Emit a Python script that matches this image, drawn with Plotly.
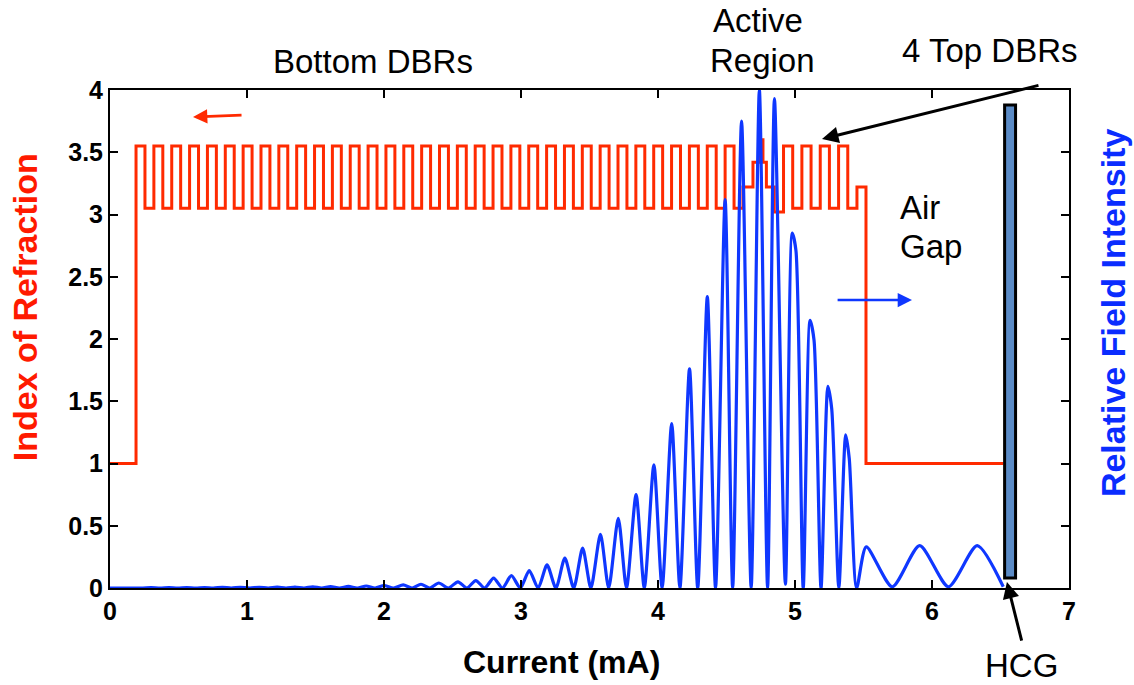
import numpy as np
import plotly.graph_objects as go

# ---- refractive-index profile of the layer stack -------------------------
substrate_n, substrate_t = [1.00], [0.19]
bottom_dbr_n, bottom_dbr_t, bottom_pairs = [3.55, 3.05], [0.0652, 0.0651], 34
active_n = [3.22, 3.42, 3.60, 3.42, 3.22, 3.02]
active_t = [0.073, 0.054, 0.019, 0.025, 0.057, 0.068]
top_dbr_n, top_dbr_t, top_pairs = [3.55, 3.05], [0.067, 0.067], 4
cap_n, cap_t = [3.22], [0.066]
air_n, air_t = [1.00], [1.003]

# ---- relative field intensity (peaks / troughs along the structure) -------
field_x = [0.00, 0.19, 0.24, 0.30, 0.365, 0.43, 0.495, 0.56, 0.625, 0.69,
           0.755, 0.82, 0.885, 0.95, 1.02, 1.09, 1.155, 1.22, 1.285, 1.35,
           1.415, 1.48, 1.545, 1.61, 1.675, 1.74, 1.805, 1.87, 1.935, 2.00,
           2.07, 2.14, 2.205, 2.27, 2.335, 2.40, 2.47, 2.54, 2.605, 2.67,
           2.735, 2.80, 2.865, 2.93, 2.995, 3.06, 3.125, 3.19, 3.255, 3.32,
           3.385, 3.45, 3.51, 3.58, 3.64, 3.71, 3.77, 3.84, 3.90, 3.97,
           4.03, 4.10, 4.16, 4.23, 4.29, 4.36, 4.42, 4.49, 4.545, 4.61,
           4.68, 4.74, 4.80, 4.85, 4.93, 4.98, 5.007, 5.06, 5.11, 5.139,
           5.19, 5.24, 5.268, 5.32, 5.37, 5.396, 5.45, 5.52, 5.71, 5.91,
           6.12, 6.33, 6.52]
field_y = [0.00, 0.00, 0.00, 0.003, 0.00, 0.003, 0.00, 0.004, 0.00, 0.004,
           0.00, 0.005, 0.00, 0.005, 0.00, 0.006, 0.00, 0.007, 0.00, 0.008,
           0.00, 0.009, 0.00, 0.011, 0.00, 0.013, 0.00, 0.016, 0.00, 0.020,
           0.00, 0.025, 0.00, 0.030, 0.00, 0.040, 0.00, 0.050, 0.00, 0.060,
           0.00, 0.080, 0.00, 0.100, 0.00, 0.140, 0.00, 0.185, 0.00, 0.240,
           0.00, 0.320, 0.00, 0.430, 0.00, 0.560, 0.00, 0.750, 0.00, 0.990,
           0.00, 1.320, 0.00, 1.760, 0.00, 2.340, 0.00, 3.120, 0.00, 3.750,
           0.00, 4.000, 0.00, 3.930, 0.03, 2.850, 2.710, 0.00, 2.150, 1.990,
           0.00, 1.620, 1.440, 0.00, 1.230, 1.040, 0.00, 0.330, 0.01, 0.340,
           0.01, 0.340, 0.01]

# grating (HCG) extent
hcg_x = [6.53, 6.61]
hcg_y = [0.08, 3.88]

x_ticks = [0, 1, 2, 3, 4, 5, 6, 7]
y_ticks = [0, 0.5, 1, 1.5, 2, 2.5, 3, 3.5, 4]
y_tick_text = ["0", "0.5", "1", "1.5", "2", "2.5", "3", "3.5", "4"]

# ---- build the step profile ---------------------------------------------
layer_n = (substrate_n + bottom_dbr_n * bottom_pairs + active_n
           + top_dbr_n * top_pairs + cap_n + air_n)
layer_t = (substrate_t + bottom_dbr_t * bottom_pairs + active_t
           + top_dbr_t * top_pairs + cap_t + air_t)
edges = np.concatenate([[0.0], np.cumsum(layer_t)])
step_x = list(edges)
step_y = layer_n + [layer_n[-1]]

RED = "#ff2a00"
BLUE = "#0f37ff"
FONT = "Liberation Sans, Arial, Helvetica, sans-serif"

fig = go.Figure()
fig.add_trace(go.Scatter(x=step_x, y=step_y, mode="lines", line_shape="hv",
                         line=dict(color=RED, width=3), showlegend=False))
fig.add_trace(go.Scatter(x=field_x, y=field_y, mode="lines", yaxis="y2",
                         line=dict(color=BLUE, width=3.2, shape="spline",
                                   smoothing=0.7),
                         showlegend=False))

fig.add_shape(type="rect", xref="x", yref="y", x0=hcg_x[0], x1=hcg_x[1],
              y0=hcg_y[0], y1=hcg_y[1], fillcolor="#5b8bc6",
              line=dict(color="black", width=3), layer="above")

axis_common = dict(showgrid=False, zeroline=False, showline=True,
                   linecolor="black", linewidth=2, ticks="inside",
                   ticklen=8, tickwidth=1.5, tickcolor="black")

fig.update_layout(
    width=1134, height=685,
    margin=dict(l=110, r=65, t=90, b=97),
    paper_bgcolor="white", plot_bgcolor="white",
    font=dict(family=FONT, color="black"),
    xaxis=dict(range=[0, 7], tickvals=x_ticks, mirror="ticks",
               tickfont=dict(size=25, weight="bold", family=FONT),
               **axis_common),
    yaxis=dict(range=[0, 4], tickvals=y_ticks, ticktext=y_tick_text,
               tickfont=dict(size=25, weight="bold", family=FONT),
               **axis_common),
    yaxis2=dict(range=[0, 4], tickvals=y_ticks, overlaying="y", side="right",
                showticklabels=False, **axis_common),
)

# axis titles
titles = [
    ("Current (mA)", 0.4713, -0.1486, 0, "black", 32),
    ("Index of Refraction", -0.0885, 0.564, -90, "#ff1a00", 34),
    ("Relative Field Intensity", 1.0459, 0.552, -90, "#0a2cff", 34),
]
for txt, px, py, ang, col, size in titles:
    fig.add_annotation(x=px, y=py, xref="paper", yref="paper", text=txt,
                       showarrow=False, textangle=ang, xanchor="center",
                       yanchor="middle",
                       font=dict(size=size, weight="bold", color=col,
                                 family=FONT))

# callout labels (paper coordinates outside the axes, data coords inside)
text_font = dict(size=33, family=FONT, color="black")
paper_labels = [
    ("Bottom DBRs", 0.2742, 1.058, "center"),
    ("Active", 0.6757, 1.140, "center"),
    ("Region", 0.6809, 1.060, "center"),
    ("4 Top DBRs", 0.9166, 1.080, "center"),
    ("HCG", 0.9500, -0.155, "center"),
]
for txt, px, py, anchor in paper_labels:
    fig.add_annotation(x=px, y=py, xref="paper", yref="paper", text=txt,
                       showarrow=False, xanchor=anchor, yanchor="middle",
                       font=text_font)
data_labels = [
    ("Air", 5.752, 3.06),
    ("Gap", 5.752, 2.74),
]
for txt, lx, ly in data_labels:
    fig.add_annotation(x=lx, y=ly, xref="x", yref="y", text=txt,
                       showarrow=False, xanchor="left", yanchor="middle",
                       font=text_font)

# pointer arrows: (head_x, head_y, tail_x, tail_y, color, width)
arrows = [
    (0.606, 3.783, 0.971, 3.799, RED, 2.6),
    (5.854, 2.313, 5.300, 2.313, BLUE, 2.6),
    (5.197, 3.606, 6.788, 4.040, "black", 3),
    (6.547, 0.048, 6.657, -0.434, "black", 3),
]
for hx, hy, tx, ty, col, w in arrows:
    fig.add_annotation(x=hx, y=hy, ax=tx, ay=ty, xref="x", yref="y",
                       axref="x", ayref="y", text="", showarrow=True,
                       arrowhead=2, arrowsize=1.1, arrowwidth=w,
                       arrowcolor=col)

fig.write_html("out.html")
